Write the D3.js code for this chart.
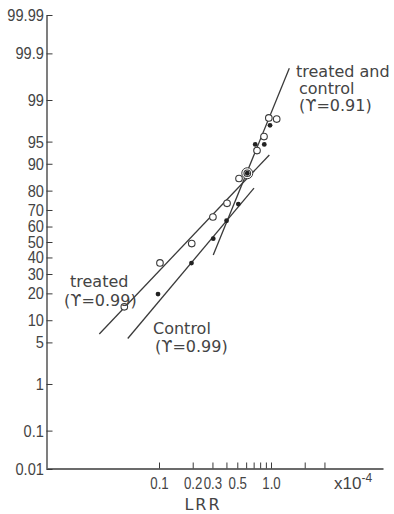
<!DOCTYPE html>
<html>
<head>
<meta charset="utf-8">
<script src="https://cdn.jsdelivr.net/npm/d3@7"></script>
<style>
  body { margin: 0; background: #fff; }
  svg { display: block; }
  .tick-label { font-family: "Liberation Sans", Arial, sans-serif; fill: #444; }
  .note { font-family: "DejaVu Sans", sans-serif; font-size: 16px; fill: #444; }
</style>
</head>
<body>
<svg id="chart" width="394" height="514"></svg>
<script>
// cumulative percent (probability scale) vs LRR (x10^-4, log scale)
const yTicks = [0.01, 0.1, 1, 5, 10, 20, 30, 40, 50, 60, 70, 80, 90, 95, 99, 99.9, 99.99];
const yTickLabels = ['0.01', '0.1', '1', '5', '10', '20', '30', '40', '50', '60', '70', '80', '90', '95', '99', '99.9', '99.99'];
const xTicks = [0.1, 0.2, 0.3, 0.4, 0.5, 0.6, 0.7, 0.8, 0.9, 1.0, 2, 3];
const xTickLabels = ['0.1', '0.2', '0.3', '', '0.5', '', '', '', '', '1.0', '', ''];

const treatedLRR = [0.049, 0.102, 0.196, 0.303, 0.405, 0.518, 0.614, 0.75, 0.866, 0.956, 1.124];
const treatedPct = [14.4, 36.6, 49.0, 65.9, 73.7, 85.1, 87.0, 93.3, 95.8, 97.9, 97.8];
const controlLRR = [0.098, 0.195, 0.305, 0.401, 0.511, 0.614, 0.723, 0.871, 0.98];
const controlPct = [19.7, 36.5, 52.2, 63.6, 73.3, 87.0, 94.5, 94.5, 97.2];

// fitted lines (end points)
const treatedFitLRR = [0.0293, 0.966];
const treatedFitPct = [6.6, 92.3];
const controlFitLRR = [0.0526, 0.705];
const controlFitPct = [5.7, 81.1];
const bothFitLRR = [0.305, 1.457];
const bothFitPct = [41.6, 99.78];

// inverse normal cdf (Acklam)
function probit(p) {
  const a = [-39.69683028665376, 220.9460984245205, -275.9285104469687, 138.3577518672690, -30.66479806614716, 2.506628277459239];
  const b = [-54.47609879822406, 161.5858368580409, -155.6989798598866, 66.80131188771972, -13.28068155288572];
  const c = [-0.007784894002430293, -0.3223964580411365, -2.400758277161838, -2.549671348410450, 4.374664141464968, 2.938163982698783];
  const d = [0.007784695709041462, 0.3224671290700398, 2.445134137142996, 3.754408661907416];
  const plow = 0.02425;
  let q, r;
  if (p < plow) {
    q = Math.sqrt(-2 * Math.log(p));
    return (((((c[0]*q+c[1])*q+c[2])*q+c[3])*q+c[4])*q+c[5]) / ((((d[0]*q+d[1])*q+d[2])*q+d[3])*q+1);
  } else if (p <= 1 - plow) {
    q = p - 0.5; r = q * q;
    return (((((a[0]*r+a[1])*r+a[2])*r+a[3])*r+a[4])*r+a[5])*q / (((((b[0]*r+b[1])*r+b[2])*r+b[3])*r+b[4])*r+1);
  }
  q = Math.sqrt(-2 * Math.log(1 - p));
  return -(((((c[0]*q+c[1])*q+c[2])*q+c[3])*q+c[4])*q+c[5]) / ((((d[0]*q+d[1])*q+d[2])*q+d[3])*q+1);
}

const svg = d3.select('#chart');
const ink = '#3a3a3a';

const x = d3.scaleLog().domain([0.01, 10]).range([47, 383]);
const yz = d3.scaleLinear().domain([probit(0.0001), probit(0.9999)]).range([469, 15]);
const y = pct => yz(probit(pct / 100));

// y axis (ticks point inward)
const yAxis = svg.append('g')
  .attr('transform', 'translate(46.5,0)')
  .call(d3.axisLeft(yz)
    .tickValues(yTicks.map(p => probit(p / 100)))
    .tickFormat((d, i) => yTickLabels[i])
    .tickSizeInner(-6)
    .tickSizeOuter(0)
    .tickPadding(3));
yAxis.select('.domain').attr('stroke', ink).attr('stroke-width', 1.3);
yAxis.selectAll('.tick line').attr('stroke', ink).attr('stroke-width', 1);
yAxis.selectAll('.tick text')
  .attr('class', 'tick-label')
  .attr('font-size', 17)
  .attr('fill', '#444')
  .attr('transform', 'scale(0.86,1)');

// x axis (ticks point up)
const xAxis = svg.append('g')
  .attr('transform', 'translate(0,468.5)')
  .call(d3.axisBottom(x)
    .tickValues(xTicks)
    .tickFormat((d, i) => xTickLabels[i])
    .tickSizeInner(-6)
    .tickSizeOuter(0)
    .tickPadding(8));
xAxis.select('.domain').attr('stroke', ink).attr('stroke-width', 1.3);
xAxis.selectAll('.tick line').attr('stroke', ink).attr('stroke-width', 1);
xAxis.selectAll('.tick text')
  .attr('class', 'tick-label')
  .attr('font-size', 17)
  .attr('fill', '#444')
  .attr('transform', 'scale(0.78,1)');

const unit = svg.append('text').attr('class', 'tick-label')
  .attr('x', 334).attr('y', 489)
  .attr('font-size', 17).text('x10');
unit.append('tspan').attr('font-size', 12).attr('dy', -7).text('-4');

svg.append('text').attr('class', 'note')
  .attr('x', 203).attr('y', 510).attr('text-anchor', 'middle')
  .attr('letter-spacing', 2).attr('font-size', 17).text('LRR');

// fitted lines
const line = d3.line().x(d => x(d[0])).y(d => y(d[1]));
const fits = [
  d3.zip(treatedFitLRR, treatedFitPct),
  d3.zip(controlFitLRR, controlFitPct),
  d3.zip(bothFitLRR, bothFitPct)
];
svg.selectAll('path.fit').data(fits).enter().append('path')
  .attr('class', 'fit')
  .attr('d', line)
  .attr('fill', 'none')
  .attr('stroke', ink)
  .attr('stroke-width', 1.3);

// points
const treated = d3.zip(treatedLRR, treatedPct);
const control = d3.zip(controlLRR, controlPct);
const shared = treated.filter(t => control.some(c => c[0] === t[0] && c[1] === t[1]));

svg.selectAll('circle.ring').data(shared).enter().append('circle')
  .attr('class', 'ring')
  .attr('cx', d => x(d[0])).attr('cy', d => y(d[1])).attr('r', 5.5)
  .attr('fill', '#fff').attr('stroke', ink).attr('stroke-width', 1);

svg.selectAll('circle.treated').data(treated).enter().append('circle')
  .attr('class', 'treated')
  .attr('cx', d => x(d[0])).attr('cy', d => y(d[1])).attr('r', 3.3)
  .attr('fill', '#fff').attr('stroke', ink).attr('stroke-width', 1.1);

svg.selectAll('circle.control').data(control).enter().append('circle')
  .attr('class', 'control')
  .attr('cx', d => x(d[0])).attr('cy', d => y(d[1])).attr('r', 2.4)
  .attr('fill', '#222');

// annotations
const notes = [
  { t: 'treated', x: 70, y: 287 },
  { t: '(\u03D2=0.99)', x: 64, y: 306 },
  { t: 'Control', x: 153, y: 334 },
  { t: '(\u03D2=0.99)', x: 155, y: 352 },
  { t: 'treated and', x: 296, y: 77 },
  { t: 'control', x: 299, y: 94 },
  { t: '(\u03D2=0.91)', x: 299, y: 111 }
];
svg.selectAll('text.note-item').data(notes).enter().append('text')
  .attr('class', 'note note-item')
  .attr('x', d => d.x).attr('y', d => d.y)
  .text(d => d.t);
</script>
</body>
</html>
